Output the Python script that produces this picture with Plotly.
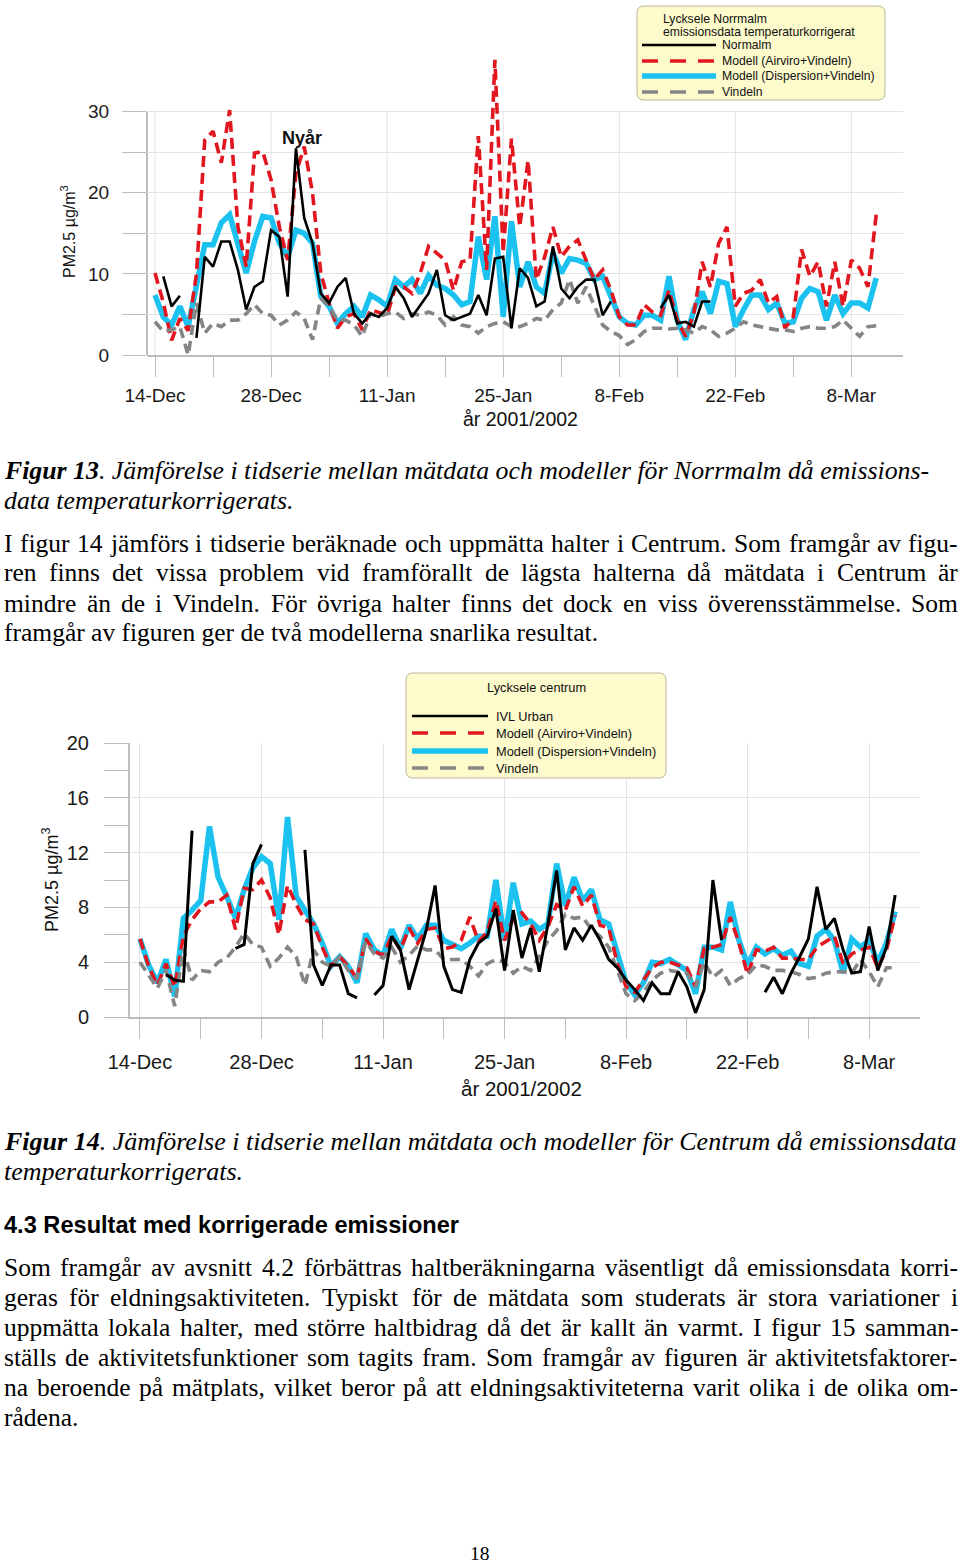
import plotly.graph_objects as go
import pandas as pd

W, H = 960, 1563
start = pd.Timestamp("2001-12-14")
n_days = 88
dates = pd.date_range(start, periods=n_days, freq="D")

tick_labels = ["14-Dec", "28-Dec", "11-Jan", "25-Jan", "8-Feb", "22-Feb", "8-Mar"]
tick_dates = pd.date_range(start, periods=7, freq="14D")
minor_dates = pd.date_range(start + pd.Timedelta(days=7), periods=6, freq="14D")

# ---------------- Figur 13 (Norrmalm) ----------------
c1_normalm = [None, 9.7, 6.0, 7.3, None, 2.1, 12.1, 10.9, 14.0, 14.0, 10.5, 5.6, 8.4, 9.1, 15.4, 14.6,
              7.2, 25.5, 16.9, 13.8, 7.6, 6.4, 8.4, 9.5, 5.1, 3.9, 5.1, 4.7, 5.8, 8.4, 7.0, 4.7,
              6.2, 7.6, 10.5, 4.9, 4.3, 4.7, 5.1, 7.4, 4.9, 11.9, 12.1, 3.3, 10.7, 9.5, 6.0, 6.6,
              13.4, 8.2, 7.0, 8.4, 9.3, 9.3, 4.9, 6.6, None, None, None, None, None, 5.8, 7.4, 3.9,
              4.1, 3.5, 6.6, 6.6, None, None, None, None, None, None, None, None, None, None, None, None,
              None, None, None, None, None, None, None, None]
c1_airviro = [10.1, 6.5, 1.8, 4.5, 3.0, 10.0, 26.5, 27.6, 23.7, 30.2, 15.8, 10.9, 24.9, 25.1, 21.6, 15.8,
              11.7, 22.4, 25.7, 20.0, 10.1, 6.4, 3.3, 4.7, 5.1, 3.1, 5.6, 5.3, 4.9, 8.4, 8.4, 7.6,
              10.1, 13.4, 12.6, 11.7, 8.0, 11.5, 11.7, 27.0, 10.5, 36.4, 12.6, 26.7, 15.8, 24.0, 9.3, 12.1,
              15.8, 12.1, 13.4, 14.2, 11.7, 9.3, 10.5, 8.0, 4.7, 3.7, 3.7, 6.2, 5.3, 4.9, 8.0, 4.3,
              2.3, 5.1, 11.5, 8.4, 13.8, 15.8, 6.0, 7.6, 8.0, 9.3, 6.4, 7.2, 3.3, 4.7, 13.0, 9.7,
              11.5, 6.0, 11.5, 6.0, 11.7, 10.7, 8.4, 17.3]
c1_dispersion = [7.4, 4.7, 3.7, 6.0, 3.5, 8.4, 13.6, 13.6, 16.3, 17.3, 13.8, 10.1, 14.0, 17.1, 16.9, 13.8,
                 12.1, 15.4, 15.0, 13.8, 7.2, 6.0, 3.9, 5.1, 6.0, 4.7, 7.4, 6.8, 6.0, 9.3, 8.4, 9.3,
                 7.6, 9.8, 8.6, 8.2, 7.4, 6.2, 6.6, 14.6, 9.3, 17.1, 4.7, 16.5, 8.4, 11.5, 8.4, 7.6,
                 12.6, 10.1, 11.9, 11.7, 11.3, 9.3, 9.7, 7.4, 4.7, 3.9, 3.7, 4.9, 4.9, 4.3, 9.7, 4.3,
                 1.9, 5.6, 7.8, 5.1, 9.1, 8.8, 3.5, 5.6, 7.4, 7.4, 5.6, 6.4, 3.9, 4.1, 7.0, 8.2,
                 7.8, 4.3, 7.4, 5.1, 6.4, 6.4, 5.8, 9.5]
c1_vindeln = [4.1, 2.9, 3.1, 3.5, 0.0, 6.4, 2.7, 3.9, 3.5, 4.3, 4.3, 5.1, 6.2, 5.1, 4.9, 3.7,
              4.3, 5.3, 4.5, 1.9, 7.0, 6.0, 4.3, 4.3, 3.7, 2.3, 5.1, 4.7, 5.1, 5.3, 4.5, 5.1,
              4.9, 5.3, 4.9, 3.7, 4.7, 3.7, 3.5, 2.7, 3.5, 3.9, 4.1, 3.5, 3.5, 3.9, 4.5, 4.3,
              5.6, 6.4, 9.3, 6.4, 8.4, 6.0, 3.7, 2.9, 2.4, 1.3, 1.9, 2.9, 3.3, 3.3, 3.2, 3.3,
              3.1, 2.7, 3.5, 3.1, 2.3, 2.7, 3.3, 4.1, 3.7, 3.5, 3.3, 3.1, 3.1, 2.9, 3.3, 3.5,
              3.3, 3.3, 3.5, 4.3, 3.3, 2.3, 3.5, 3.6]

# ---------------- Figur 14 (Centrum) ----------------
c2_ivl = [None, None, None, 3.1, 2.7, 2.6, 13.6, None, None, None, None, 5.0, 5.3, 11.2, 12.6, None,
          None, None, None, 12.2, 3.8, 2.3, 3.8, 3.8, 1.7, 1.4, None, 1.6, 2.3, 5.9, 4.9, 2.0,
          4.3, 6.4, 9.6, 3.7, 2.0, 1.8, 4.2, 5.4, 5.9, 7.9, 3.4, 7.8, 4.3, 6.5, 3.3, 6.8,
          10.7, 4.9, 6.5, 5.6, 6.7, 5.6, 4.2, 3.6, 2.7, 2.0, 1.2, 2.5, 1.7, 1.7, 3.3, 2.2,
          0.3, 2.0, 10.0, 5.6, None, None, None, None, 1.8, 2.9, 1.7, 3.2, 4.4, 5.7, 9.5, 6.4,
          7.2, 4.9, 3.2, 3.3, 6.6, 3.4, 5.1, 8.9]
c2_airviro = [5.7, 3.7, 2.3, 3.9, 2.2, 5.9, 7.1, 7.9, 8.4, 8.4, 8.9, 6.4, 9.4, 9.3, 10.0, 8.7,
              6.0, 9.6, 8.2, 7.1, 6.8, 5.1, 3.7, 4.4, 3.7, 2.8, 5.7, 4.8, 4.5, 5.9, 4.9, 6.5,
              5.4, 6.4, 6.5, 5.0, 5.1, 5.6, 7.3, 5.5, 6.2, 8.5, 5.6, 7.2, 7.6, 6.8, 5.6, 6.6,
              8.2, 7.8, 9.5, 8.1, 8.9, 6.7, 6.5, 3.9, 2.2, 1.8, 2.7, 3.6, 4.0, 4.0, 3.8, 3.6,
              2.2, 5.0, 5.1, 5.3, 7.3, 5.4, 3.1, 4.9, 4.8, 5.1, 4.3, 4.3, 4.2, 4.2, 5.1, 5.5,
              5.9, 3.9, 4.6, 4.9, 5.1, 3.6, 4.9, 7.4]
c2_dispersion = [5.7, 3.8, 2.5, 4.2, 1.5, 7.2, 7.8, 8.5, 13.9, 10.2, 8.8, 7.2, 9.3, 10.9, 11.7, 11.2,
                 7.1, 14.6, 8.8, 7.8, 6.8, 5.4, 3.7, 4.4, 3.7, 2.5, 6.1, 4.9, 4.5, 6.4, 5.0, 6.7,
                 5.7, 6.7, 6.7, 5.6, 5.3, 5.0, 5.4, 5.9, 5.9, 10.0, 5.6, 9.8, 6.8, 7.0, 6.4, 6.8,
                 11.2, 8.1, 10.2, 8.5, 9.3, 7.1, 6.8, 4.6, 2.5, 1.6, 2.5, 4.0, 3.9, 4.2, 3.8, 3.4,
                 1.7, 5.1, 5.1, 4.9, 8.4, 5.6, 3.8, 5.1, 4.6, 5.0, 4.5, 4.8, 3.9, 3.7, 5.9, 6.4,
                 5.6, 3.2, 5.7, 5.1, 5.6, 4.0, 5.4, 7.7]
c2_vindeln = [4.0, 3.1, 2.1, 3.4, 0.8, 5.0, 2.7, 3.4, 3.3, 4.0, 4.3, 5.1, 6.1, 5.3, 5.1, 3.7,
              4.3, 5.1, 4.4, 2.3, 4.9, 4.0, 3.7, 4.4, 3.4, 2.8, 5.5, 4.6, 4.3, 5.1, 4.0, 4.5,
              5.2, 4.9, 4.9, 4.2, 4.2, 4.2, 3.7, 3.0, 3.9, 4.2, 4.0, 3.2, 3.7, 3.4, 4.4, 5.6,
              6.3, 7.5, 7.2, 7.3, 6.4, 5.9, 5.1, 3.4, 1.7, 1.2, 1.8, 2.7, 3.2, 3.4, 3.3, 3.2,
              2.2, 4.0, 2.9, 3.4, 2.3, 2.8, 3.1, 3.8, 3.7, 3.4, 3.4, 3.3, 3.1, 2.8, 2.9, 3.2,
              3.3, 3.3, 3.2, 4.2, 3.3, 2.2, 3.6, 3.6]

c1_yticks = [0, 10, 20, 30]
c1_yminor = [5, 15, 25]
c2_yticks = [0, 4, 8, 12, 16, 20]
c2_yminor = [2, 6, 10, 14, 18]

BLUE = "#1CC2EF"
RED = "#E2161E"
GRAY = "#858585"
BLACK = "#000000"
AXC = "#BDBDBD"
GRIDC = "#E3E3E3"
SANS = "Liberation Sans, Arial, sans-serif"
SERIF = "Liberation Serif, Times New Roman, serif"


def px(x):
    return x / W


def py(y):
    return 1 - y / H


fig = go.Figure()

series_styles = [
    ("disp", dict(color=BLUE, width=5.5, dash="solid")),
    ("air", dict(color=RED, width=3.6, dash="11px,6px")),
    ("vin", dict(color=GRAY, width=3.6, dash="10px,6px")),
    ("meas", dict(color=BLACK, width=2.6, dash="solid")),
]
c1 = {"disp": c1_dispersion, "air": c1_airviro, "vin": c1_vindeln, "meas": c1_normalm}
c2 = {"disp": c2_dispersion, "air": c2_airviro, "vin": c2_vindeln, "meas": c2_ivl}
for key, ln in series_styles:
    fig.add_trace(go.Scatter(x=dates, y=c1[key], mode="lines", line=ln, xaxis="x", yaxis="y",
                             showlegend=False, connectgaps=False, hoverinfo="skip"))
for key, ln in series_styles:
    ln2 = dict(ln)
    if key == "meas":
        ln2["width"] = 3.0
    fig.add_trace(go.Scatter(x=dates, y=c2[key], mode="lines", line=ln2, xaxis="x2", yaxis="y2",
                             showlegend=False, connectgaps=False, hoverinfo="skip"))

day = pd.Timedelta(days=1)
x1_range = [start - 0.965 * day, start + 90.23 * day]
x2_range = [start - 1.15 * day, start + 89.86 * day]

common_x = dict(
    type="date", tickvals=list(tick_dates), ticktext=tick_labels, ticks="outside", ticklen=20,
    tickcolor=AXC, tickwidth=1, showline=True, linecolor=AXC, linewidth=2, zeroline=False,
    automargin=False,
    minor=dict(tickvals=list(minor_dates), ticks="outside", ticklen=20, tickcolor=AXC, tickwidth=1,
               showgrid=False),
)

fig.update_layout(
    template="none",
    width=W, height=H, margin=dict(l=0, r=0, t=0, b=0, pad=0, autoexpand=False),
    paper_bgcolor="white", plot_bgcolor="rgba(0,0,0,0)", showlegend=False,
    xaxis=dict(common_x, domain=[px(147), px(903)], range=x1_range, anchor="y", showgrid=False,
               tickfont=dict(family=SANS, size=19, color="#1a1a1a"), ticklabelstandoff=2),
    yaxis=dict(domain=[py(355), py(55)], range=[0, 37], anchor="x", tickvals=c1_yticks,
               ticks="outside", ticklen=24, tickcolor=AXC, showgrid=True,
               gridcolor=GRIDC, gridwidth=1, showline=False, zeroline=False, automargin=False,
               minor=dict(tickvals=c1_yminor, ticks="outside", ticklen=24, tickcolor=AXC,
                          showgrid=True, gridcolor=GRIDC, gridwidth=1),
               tickfont=dict(family=SANS, size=19, color="#1a1a1a"), ticklabelstandoff=9),
    xaxis2=dict(common_x, domain=[px(130), px(920)], range=x2_range, anchor="y2", showgrid=True,
                gridcolor=GRIDC, gridwidth=1, tickfont=dict(family=SANS, size=20, color="#1a1a1a"),
                ticklabelstandoff=6),
    yaxis2=dict(domain=[py(1017), py(743)], range=[0, 20], anchor="x2", tickvals=c2_yticks,
                ticks="outside", ticklen=24, tickcolor=AXC, showgrid=True, gridcolor=GRIDC, gridwidth=1,
                showline=True, linecolor=AXC, linewidth=2, zeroline=False, automargin=False,
                minor=dict(tickvals=c2_yminor, ticks="outside", ticklen=24, tickcolor=AXC,
                           showgrid=False),
                tickfont=dict(family=SANS, size=20, color="#1a1a1a"), ticklabelstandoff=11),
)

shapes = []
# chart 1 vertical gridlines and left axis line (only up to 30)
for d in tick_dates:
    shapes.append(dict(type="line", xref="x", yref="y", x0=d, x1=d, y0=0, y1=30,
                       line=dict(color=GRIDC, width=1), layer="below"))
shapes.append(dict(type="line", xref="x domain", yref="y", x0=0, x1=0, y0=0, y1=30,
                   line=dict(color=AXC, width=2), layer="below"))


def rrect(x0, y0, x1, y1, r):
    rx, ry = r / W, r / H
    X0, X1, Y0, Y1 = px(x0), px(x1), py(y0), py(y1)
    return (f"M {X0+rx} {Y0} L {X1-rx} {Y0} Q {X1} {Y0} {X1} {Y0-ry} "
            f"L {X1} {Y1+ry} Q {X1} {Y1} {X1-rx} {Y1} L {X0+rx} {Y1} "
            f"Q {X0} {Y1} {X0} {Y1+ry} L {X0} {Y0-ry} Q {X0} {Y0} {X0+rx} {Y0} Z")


LEG_FILL = "#FDFACB"
LEG_LINE = "#B9B79E"
shapes.append(dict(type="path", xref="paper", yref="paper", path=rrect(637, 6, 885, 100, 7),
                   fillcolor=LEG_FILL, line=dict(color=LEG_LINE, width=1)))
shapes.append(dict(type="path", xref="paper", yref="paper", path=rrect(406, 673, 666, 778, 7),
                   fillcolor=LEG_FILL, line=dict(color=LEG_LINE, width=1)))

legend_styles = [
    dict(color=BLACK, width=2.6, dash="solid"),
    dict(color=RED, width=3.4, dash="16px,12px"),
    dict(color=BLUE, width=5.5, dash="solid"),
    dict(color=GRAY, width=3.4, dash="16px,12px"),
]
leg1_names = ["Normalm", "Modell (Airviro+Vindeln)", "Modell (Dispersion+Vindeln)", "Vindeln"]
leg2_names = ["IVL Urban", "Modell (Airviro+Vindeln)", "Modell (Dispersion+Vindeln)", "Vindeln"]
leg1_y = [45, 61, 76, 92]
leg2_y = [716, 733, 751, 768]

annotations = []


def ann(x, y, text, size, family=SANS, xanchor="left", color="#111111", textangle=0, yanchor="middle"):
    annotations.append(dict(x=px(x), y=py(y), xref="paper", yref="paper", text=text, showarrow=False,
                            xanchor=xanchor, yanchor=yanchor, textangle=textangle, borderpad=0,
                            font=dict(family=family, size=size, color=color)))


for st, yy, name in zip(legend_styles, leg1_y, leg1_names):
    shapes.append(dict(type="line", xref="paper", yref="paper", x0=px(642), x1=px(716),
                       y0=py(yy), y1=py(yy), line=st))
    ann(721, yy, name, 12.2)
ann(662, 19, "Lycksele Norrmalm", 12.2)
ann(662, 32, "emissionsdata temperaturkorrigerat", 12.2)

for st, yy, name in zip(legend_styles, leg2_y, leg2_names):
    shapes.append(dict(type="line", xref="paper", yref="paper", x0=px(412), x1=px(488),
                       y0=py(yy), y1=py(yy), line=st))
    ann(495, yy, name, 12.8)
ann(536, 687, "Lycksele centrum", 12.8, xanchor="center")

# chart labels
ann(302, 138, "<b>Nyår</b>", 18, xanchor="center")
ann(520, 419, "år 2001/2002", 19.5, xanchor="center")
ann(521, 1088, "år 2001/2002", 20.5, xanchor="center")
ann(68, 232, "PM2.5 µg/m<sup>3</sup>", 16, xanchor="center", textangle=-90)
ann(50, 880, "PM2.5 µg/m<sup>3</sup>", 18, xanchor="center", textangle=-90)

# ---------- body text ----------
TW = {' ': 250, 'a': 444, 'b': 500, 'c': 444, 'd': 500, 'e': 444, 'f': 333, 'g': 500, 'h': 500,
      'i': 278, 'j': 278, 'k': 500, 'l': 278, 'm': 778, 'n': 500, 'o': 500, 'p': 500, 'q': 500,
      'r': 333, 's': 389, 't': 278, 'u': 500, 'v': 500, 'w': 722, 'x': 500, 'y': 500, 'z': 444,
      'å': 444, 'ä': 444, 'ö': 500, 'A': 722, 'B': 667, 'C': 667, 'D': 722, 'E': 611, 'F': 556,
      'G': 722, 'H': 722, 'I': 333, 'J': 389, 'K': 722, 'L': 611, 'M': 889, 'N': 722, 'O': 722,
      'P': 556, 'R': 667, 'S': 556, 'T': 611, 'U': 722, 'V': 722, 'W': 944, '.': 250, ',': 250,
      '-': 333}


def tw(s, size):
    return sum(TW.get(c, 500) for c in s) / 1000 * size


BODY = 25.5
CAP = 25.8


def body_line(text, y, justify=True, x0=3, x1=957):
    if not justify:
        ann(x0, y, text, BODY, family=SERIF, color="#000000")
        return
    words = text.split()
    widths = [tw(w, BODY) for w in words]
    gap = (x1 - x0 - sum(widths)) / (len(words) - 1)
    x = x0
    for w, wd in zip(words, widths):
        ann(x, y, w, BODY, family=SERIF, color="#000000")
        x += wd + gap


ann(3, 470, "<b><i>Figur 13</i></b><i>. Jämförelse i tidserie mellan mätdata och modeller för Norrmalm då emissions-</i>",
    CAP, family=SERIF, color="#000000")
ann(3, 500, "<i>data temperaturkorrigerats.</i>", CAP, family=SERIF, color="#000000")

para1 = ["I figur 14 jämförs i tidserie beräknade och uppmätta halter i Centrum. Som framgår av figu-",
         "ren finns det vissa problem vid framförallt de lägsta halterna då mätdata i Centrum är",
         "mindre än de i Vindeln. För övriga halter finns det dock en viss överensstämmelse. Som",
         "framgår av figuren ger de två modellerna snarlika resultat."]
for k, (line, yy) in enumerate(zip(para1, [543, 573, 603, 632])):
    body_line(line, yy, justify=(k < len(para1) - 1))

ann(3, 1141, "<b><i>Figur 14</i></b><i>. Jämförelse i tidserie mellan mätdata och modeller för Centrum då emissionsdata</i>",
    26.0, family=SERIF, color="#000000")
ann(3, 1171, "<i>temperaturkorrigerats.</i>", 26.0, family=SERIF, color="#000000")

ann(3, 1225, "<b>4.3 Resultat med korrigerade emissioner</b>", 23.6, family=SANS, color="#000000")

para2 = ["Som framgår av avsnitt 4.2 förbättras haltberäkningarna väsentligt då emissionsdata korri-",
         "geras för eldningsaktiviteten. Typiskt för de mätdata som studerats är stora variationer i",
         "uppmätta lokala halter, med större haltbidrag då det är kallt än varmt. I figur 15 samman-",
         "ställs de aktivitetsfunktioner som tagits fram. Som framgår av figuren är aktivitetsfaktorer-",
         "na beroende på mätplats, vilket beror på att eldningsaktiviteterna varit olika i de olika om-",
         "rådena."]
for k, (line, yy) in enumerate(zip(para2, [1267, 1297, 1327, 1357, 1387, 1417])):
    body_line(line, yy, justify=(k < len(para2) - 1))

ann(480, 1553, "18", 19.5, family=SERIF, xanchor="center", color="#000000")

fig.update_layout(shapes=shapes, annotations=annotations, hovermode=False)
fig.write_html(
    "out.html",
    config={"displayModeBar": False, "staticPlot": True},
    post_script="document.body.style.margin='0px';document.body.style.padding='0px';"
                "document.body.style.overflow='hidden';document.documentElement.style.overflow='hidden';",
)
